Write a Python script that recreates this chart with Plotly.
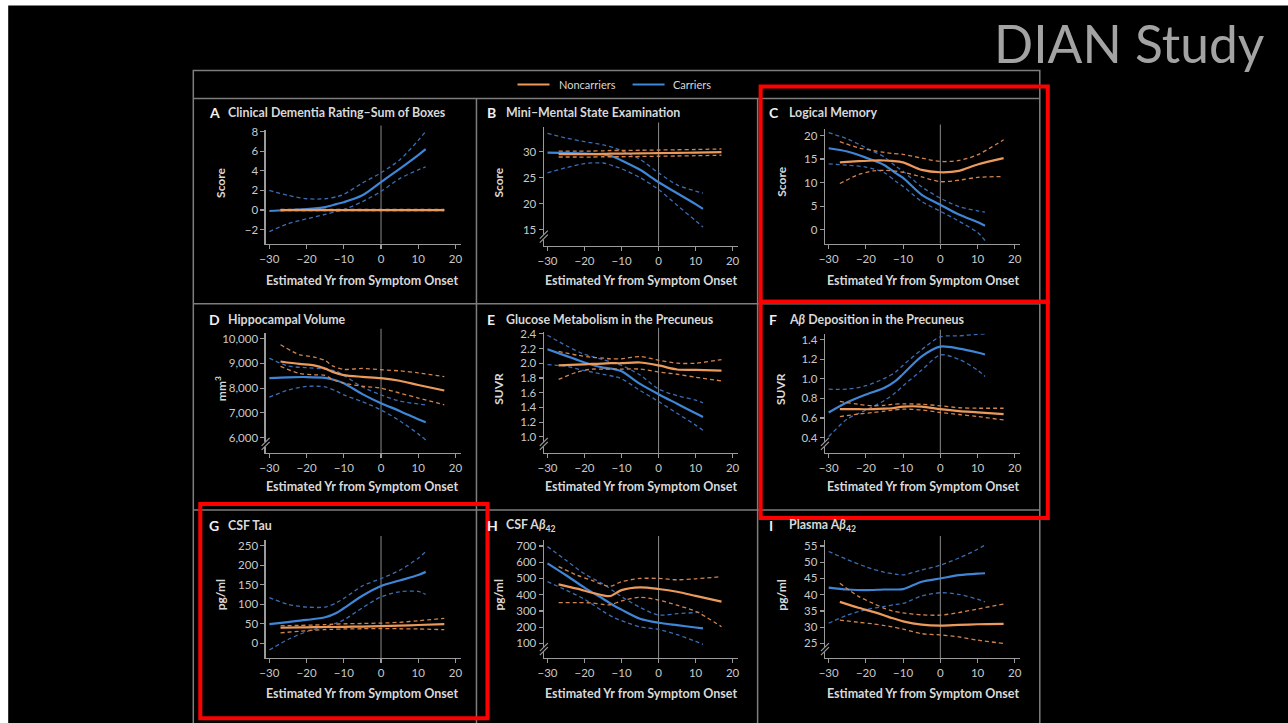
import plotly.graph_objects as go

# ---------------- data ----------------
CAR_X = [-30, -25, -20, -15, -12, -10, -5, 0, 5, 10, 12]
NON_X = [-27, -22, -18, -15, -13, -10, -5, 0, 5, 10, 17]
X_TICKS = [-30, -20, -10, 0, 10, 20]

A_CAR = [-0.1, 0.0, 0.1, 0.3, 0.6, 0.8, 1.5, 2.85, 4.2, 5.6, 6.2]
A_CAR_HI = [2.0, 1.5, 1.15, 1.15, 1.35, 1.6, 2.75, 3.8, 5.1, 7.1, 8.0]
A_CAR_LO = [-2.2, -1.4, -0.9, -0.45, -0.15, 0.05, 0.85, 1.9, 3.2, 4.1, 4.4]
A_NON = [0, 0, 0, 0, 0, 0, 0, 0, 0, 0, 0]
A_NON_HI = [0.06, 0.06, 0.06, 0.06, 0.06, 0.06, 0.06, 0.06, 0.06, 0.06, 0.06]
A_NON_LO = [-0.06, -0.06, -0.06, -0.06, -0.06, -0.06, -0.06, -0.06, -0.06, -0.06, -0.06]

B_CAR = [29.8, 29.75, 29.6, 29.45, 28.95, 28.3, 26.5, 24.1, 22.0, 19.9, 19.0]
B_CAR_HI = [33.5, 32.6, 31.9, 31.3, 30.7, 30.2, 28.5, 25.9, 23.6, 22.4, 22.0]
B_CAR_LO = [25.9, 26.9, 27.7, 27.8, 27.2, 26.7, 25.0, 22.7, 19.7, 16.7, 15.5]
B_NON = [29.5, 29.5, 29.5, 29.55, 29.6, 29.6, 29.65, 29.7, 29.75, 29.8, 29.9]
B_NON_HI = [30.1, 30.1, 30.1, 30.15, 30.2, 30.2, 30.25, 30.3, 30.35, 30.4, 30.5]
B_NON_LO = [28.95, 28.95, 28.95, 29.0, 29.0, 29.0, 29.05, 29.1, 29.15, 29.2, 29.3]

C_CAR = [17.3, 16.6, 15.3, 13.7, 12.0, 11.0, 7.4, 5.3, 3.2, 1.6, 0.85]
C_CAR_HI = [20.6, 19.3, 17.4, 15.4, 13.5, 12.4, 9.1, 6.7, 4.9, 4.0, 3.7]
C_CAR_LO = [14.0, 13.7, 13.3, 12.1, 10.3, 9.2, 6.0, 3.9, 1.8, -0.6, -2.3]
C_NON = [14.3, 14.55, 14.7, 14.7, 14.6, 14.3, 12.7, 12.2, 12.5, 13.85, 15.2]
C_NON_HI = [18.7, 17.4, 16.8, 16.4, 16.2, 16.0, 15.2, 14.5, 14.7, 15.9, 19.1]
C_NON_LO = [9.8, 11.7, 12.5, 12.6, 12.5, 12.2, 11.2, 10.2, 10.5, 11.1, 11.3]

D_CAR = [8405, 8440, 8450, 8415, 8310, 8200, 7760, 7390, 7080, 6740, 6620]
D_CAR_HI = [9216, 8900, 8830, 8770, 8680, 8520, 8050, 7730, 7480, 7360, 7325]
D_CAR_LO = [7635, 7920, 8070, 8050, 7880, 7730, 7450, 7120, 6680, 6150, 5900]
D_NON = [9080, 8980, 8920, 8790, 8660, 8530, 8460, 8405, 8300, 8130, 7905]
D_NON_HI = [9757, 9360, 9260, 9120, 8900, 8760, 8800, 8745, 8700, 8620, 8470]
D_NON_LO = [8880, 8600, 8540, 8520, 8350, 8200, 8080, 8000, 7800, 7600, 7325]

E_CAR = [2.19, 2.10, 2.01, 1.94, 1.92, 1.89, 1.72, 1.58, 1.45, 1.32, 1.27]
E_CAR_HI = [2.38, 2.24, 2.12, 2.05, 2.0, 1.97, 1.84, 1.65, 1.56, 1.50, 1.46]
E_CAR_LO = [1.98, 1.96, 1.90, 1.85, 1.82, 1.79, 1.63, 1.48, 1.32, 1.16, 1.09]
E_NON = [1.97, 1.98, 1.99, 1.995, 2.0, 2.0, 2.01, 1.97, 1.915, 1.91, 1.90]
E_NON_HI = [2.16, 2.11, 2.08, 2.07, 2.06, 2.06, 2.09, 2.04, 2.0, 2.0, 2.05]
E_NON_LO = [1.78, 1.88, 1.92, 1.92, 1.92, 1.92, 1.92, 1.88, 1.85, 1.81, 1.76]

F_CAR = [0.656, 0.76, 0.84, 0.91, 0.98, 1.05, 1.23, 1.33, 1.31, 1.27, 1.25]
F_CAR_HI = [0.895, 0.895, 0.93, 1.005, 1.07, 1.14, 1.30, 1.43, 1.44, 1.455, 1.46]
F_CAR_LO = [0.41, 0.59, 0.68, 0.78, 0.86, 0.93, 1.09, 1.245, 1.20, 1.09, 1.025]
F_NON = [0.69, 0.69, 0.69, 0.695, 0.70, 0.717, 0.717, 0.69, 0.67, 0.658, 0.64]
F_NON_HI = [0.77, 0.74, 0.725, 0.73, 0.74, 0.745, 0.74, 0.725, 0.705, 0.70, 0.70]
F_NON_LO = [0.615, 0.64, 0.656, 0.67, 0.68, 0.69, 0.683, 0.656, 0.636, 0.615, 0.58]

G_CAR = [49.5, 54.5, 60, 67, 78, 90, 122, 147, 161, 175, 183]
G_CAR_HI = [117, 100, 93, 93, 104, 115, 147, 166, 187, 218, 235]
G_CAR_LO = [-17, 10, 30, 43, 52, 60, 91, 119, 132, 133, 125]
G_NON = [40, 41, 41.5, 42, 42, 42.5, 43, 44, 45.5, 47, 49.5]
G_NON_HI = [45, 46, 47, 48, 49, 50, 51, 52, 54, 58, 64]
G_NON_LO = [27, 31, 34, 35.5, 36, 37, 37.5, 38, 37.5, 37, 35]

H_CAR = [593, 520, 444, 375, 332, 308, 252, 227, 212, 198, 192]
H_CAR_HI = [696, 612, 528, 466, 420, 388, 322, 275, 283, 290, 295]
H_CAR_LO = [480, 428, 372, 297, 258, 240, 202, 186, 154, 112, 94]
H_NON = [464, 437, 412, 396, 392, 428, 445, 435, 418, 393, 357]
H_NON_HI = [573, 520, 488, 462, 452, 480, 500, 500, 492, 498, 511]
H_NON_LO = [351, 351, 349, 340, 338, 362, 384, 367, 335, 298, 203]

I_CAR = [42.2, 41.6, 41.4, 41.6, 41.6, 41.7, 44.0, 45.0, 46.0, 46.5, 46.6]
I_CAR_HI = [53.3, 50.8, 48.6, 46.9, 46.3, 46.1, 47.6, 49.1, 51.3, 54.0, 55.3]
I_CAR_LO = [31.2, 33.7, 35.4, 36.4, 37.0, 37.3, 39.6, 40.6, 40.1, 38.6, 37.8]
I_NON = [37.8, 36.0, 34.7, 33.6, 32.8, 31.8, 30.8, 30.5, 30.7, 30.9, 31.0]
I_NON_HI = [43.5, 39.5, 37.3, 35.8, 35.0, 34.4, 33.8, 33.7, 34.5, 35.6, 37.1]
I_NON_LO = [32.2, 31.5, 31.0, 30.5, 30.1, 29.4, 28.0, 27.6, 27.0, 26.0, 25.0]

LETTERS = ["A", "B", "C", "D", "E", "F", "G", "H", "I"]
TITLES = ["Clinical Dementia Rating–Sum of Boxes", "Mini–Mental State Examination",
          "Logical Memory", "Hippocampal Volume", "Glucose Metabolism in the Precuneus",
          "A<i>β</i> Deposition in the Precuneus", "CSF Tau", "CSF A<i>β</i><sub>42</sub>",
          "Plasma A<i>β</i><sub>42</sub>"]
YLABELS = ["Score", "Score", "Score", "mm<sup>3</sup>", "SUVR", "SUVR", "pg/ml", "pg/ml", "pg/ml"]
XLABEL = "Estimated Yr from Symptom Onset"
Y_TICKS = [
    [-2, 0, 2, 4, 6, 8],
    [15, 20, 25, 30],
    [0, 5, 10, 15, 20],
    [6000, 7000, 8000, 9000, 10000],
    [1.0, 1.2, 1.4, 1.6, 1.8, 2.0, 2.2, 2.4],
    [0.4, 0.6, 0.8, 1.0, 1.2, 1.4],
    [0, 50, 100, 150, 200, 250],
    [100, 200, 300, 400, 500, 600, 700],
    [25, 30, 35, 40, 45, 50, 55],
]
Y_FORMATS = ["d", "d", "d", ",d", ".1f", ".1f", "d", "d", "d"]
SERIES = [
    (A_CAR, A_CAR_HI, A_CAR_LO, A_NON, A_NON_HI, A_NON_LO),
    (B_CAR, B_CAR_HI, B_CAR_LO, B_NON, B_NON_HI, B_NON_LO),
    (C_CAR, C_CAR_HI, C_CAR_LO, C_NON, C_NON_HI, C_NON_LO),
    (D_CAR, D_CAR_HI, D_CAR_LO, D_NON, D_NON_HI, D_NON_LO),
    (E_CAR, E_CAR_HI, E_CAR_LO, E_NON, E_NON_HI, E_NON_LO),
    (F_CAR, F_CAR_HI, F_CAR_LO, F_NON, F_NON_HI, F_NON_LO),
    (G_CAR, G_CAR_HI, G_CAR_LO, G_NON, G_NON_HI, G_NON_LO),
    (H_CAR, H_CAR_HI, H_CAR_LO, H_NON, H_NON_HI, H_NON_LO),
    (I_CAR, I_CAR_HI, I_CAR_LO, I_NON, I_NON_HI, I_NON_LO),
]

# ---------------- layout geometry (target pixels) ----------------
W, H = 1288, 723
FONT = "Lato"
BLUE = "#3f86d6"
BLUE_D = "#3a6db5"
ORANGE = "#ec9a5c"
ORANGE_D = "#d2844e"
AXC = "#9a9a9a"
TXT = "#d8d8d8"

COL_X0 = [269, 547, 828]     # pixel of x=-30
COL_X1 = [455, 732, 1014]    # pixel of x=20
# (tick value1, pixel1, tick value2, pixel2, top pixel, bottom pixel, axis break)
GEOM = [
    (8, 132, -2, 230, 130, 244, False),
    (30, 152, 15, 230, 127, 246, True),
    (20, 136, 0, 230, 129, 244, False),
    (10000, 339, 6000, 437.7, 333, 453, True),
    (2.4, 334, 1.0, 437, 332, 453, True),
    (1.4, 340, 0.4, 437.7, 334, 453, True),
    (250, 545.7, 0, 643.3, 540, 658, False),
    (700, 546, 100, 643.3, 540, 658, True),
    (55, 546, 25, 643.3, 540, 658, True),
]
LETTER_X = [207, 485, 766]
TITLE_X = [226, 504, 786]
TITLE_Y = [113, 320, 526]
YLAB_X = [220, 498, 780]
XLAB_X = [362, 640, 922]
XLAB_Y = [281, 487, 693]
XMIN, XMAX = -31, 21.5

# the capture shows the page slightly offset and scaled; compensate
OFF_X, SC_X = 5.8, 0.994
OFF_Y, SC_Y = 5.6, 0.992


def fx(p):
    return ((p - OFF_X) / SC_X) / W


def fy(p):
    return 1 - ((p - OFF_Y) / SC_Y) / H


fig = go.Figure()
shapes = []
annotations = []
layout = {}

for k in range(9):
    r, c = divmod(k, 3)
    n = k + 1
    xs = "" if n == 1 else str(n)
    v1, p1, v2, p2, top, bot, brk = GEOM[k]
    sc = (p2 - p1) / (v1 - v2)
    ymin = v2 - (bot - p2) / sc
    ymax = v1 + (p1 - top) / sc
    x0, x1 = COL_X0[c], COL_X1[c]
    sx = (x1 - x0) / 50.0
    left_px = x0 + (XMIN + 30) * sx
    right_px = x0 + (XMAX + 30) * sx

    car, car_hi, car_lo, non, non_hi, non_lo = SERIES[k]
    common = dict(xaxis="x" + xs, yaxis="y" + xs, mode="lines", showlegend=False,
                  hoverinfo="skip")
    dash_line = dict(width=1.3, dash="4px,3px", shape="spline", smoothing=0.8)
    fig.add_trace(go.Scatter(x=CAR_X, y=car_hi, line=dict(color=BLUE_D, **dash_line), **common))
    fig.add_trace(go.Scatter(x=CAR_X, y=car_lo, line=dict(color=BLUE_D, **dash_line), **common))
    fig.add_trace(go.Scatter(x=CAR_X, y=car, line=dict(color=BLUE, width=2.2,
                                                      shape="spline", smoothing=0.8), **common))
    fig.add_trace(go.Scatter(x=NON_X, y=non_hi, line=dict(color=ORANGE_D, **dash_line), **common))
    fig.add_trace(go.Scatter(x=NON_X, y=non_lo, line=dict(color=ORANGE_D, **dash_line), **common))
    fig.add_trace(go.Scatter(x=NON_X, y=non, line=dict(color=ORANGE, width=2.2,
                                                      shape="spline", smoothing=0.8), **common))

    tickfont = dict(family=FONT, size=11.5, color="#c8c8c8")
    layout["xaxis" + xs] = dict(
        domain=[fx(left_px), fx(right_px)], range=[XMIN, XMAX], anchor="y" + xs,
        tickmode="array", tickvals=X_TICKS, ticks="outside", ticklen=4, tickwidth=1.2,
        tickcolor=AXC, showline=True, linecolor=AXC, linewidth=1.2, showgrid=False,
        zeroline=False, tickfont=tickfont, fixedrange=True)
    layout["yaxis" + xs] = dict(
        domain=[fy(bot), fy(top)], range=[ymin, ymax], anchor="x" + xs,
        tickmode="array", tickvals=Y_TICKS[k], tickformat=Y_FORMATS[k], ticks="outside",
        ticklen=4, tickwidth=1.2, tickcolor=AXC, showline=True, linecolor=AXC, linewidth=1.2,
        showgrid=False, zeroline=False, tickfont=tickfont, fixedrange=True)

    # vertical line at symptom onset
    shapes.append(dict(type="line", xref="x" + xs, yref="paper", x0=0, x1=0,
                       y0=fy(bot), y1=fy(top - 4), line=dict(color="#8a8a8a", width=1),
                       layer="below"))
    # axis break
    if brk:
        ax = left_px
        shapes.append(dict(type="rect", xref="paper", yref="paper", x0=fx(ax - 2), x1=fx(ax + 2),
                           y0=fy(bot - 6), y1=fy(bot - 11), fillcolor="black",
                           line=dict(width=0)))
        for off in (0, 4):
            shapes.append(dict(type="line", xref="paper", yref="paper",
                               x0=fx(ax - 4), y0=fy(bot - 3 - off), x1=fx(ax + 4),
                               y1=fy(bot - 11 - off), line=dict(color=AXC, width=1.2)))

    # titles
    annotations.append(dict(text="<b>" + LETTERS[k] + "</b>", x=fx(LETTER_X[c]), y=fy(TITLE_Y[r]),
                            xref="paper", yref="paper", xanchor="left", yanchor="middle",
                            showarrow=False, font=dict(family=FONT, size=14, color="#f0f0f0")))
    annotations.append(dict(text="<b>" + TITLES[k] + "</b>", x=fx(TITLE_X[c]), y=fy(TITLE_Y[r]),
                            xref="paper", yref="paper", xanchor="left", yanchor="middle",
                            showarrow=False, font=dict(family=FONT, size=12.4, color=TXT)))
    annotations.append(dict(text="<b>" + YLABELS[k] + "</b>", x=fx(YLAB_X[c]),
                            y=fy((top + bot) / 2 - 4), xref="paper", yref="paper",
                            xanchor="center", yanchor="middle", textangle=-90,
                            showarrow=False, font=dict(family=FONT, size=12, color=TXT)))
    annotations.append(dict(text="<b>" + XLABEL + "</b>", x=fx(XLAB_X[c]), y=fy(XLAB_Y[r]),
                            xref="paper", yref="paper", xanchor="center", yanchor="middle",
                            showarrow=False, font=dict(family=FONT, size=12.5, color=TXT)))

# slide background (black), leaving thin white margins at top and left
shapes.insert(0, dict(type="rect", xref="paper", yref="paper", x0=fx(8), x1=1.02, y0=-0.02,
                      y1=fy(6), fillcolor="black", line=dict(width=0), layer="below"))

# figure frame
FR = dict(color="#7d7d7d", width=1.5)
shapes += [
    dict(type="rect", xref="paper", yref="paper", x0=fx(193), x1=fx(1039), y0=fy(740), y1=fy(71),
         line=FR),
    dict(type="line", xref="paper", yref="paper", x0=fx(193), x1=fx(1039), y0=fy(99), y1=fy(99),
         line=FR),
    dict(type="line", xref="paper", yref="paper", x0=fx(193), x1=fx(1039), y0=fy(304), y1=fy(304),
         line=FR),
    dict(type="line", xref="paper", yref="paper", x0=fx(193), x1=fx(1039), y0=fy(510), y1=fy(510),
         line=FR),
    dict(type="line", xref="paper", yref="paper", x0=fx(476), x1=fx(476), y0=fy(99), y1=fy(740),
         line=FR),
    dict(type="line", xref="paper", yref="paper", x0=fx(757), x1=fx(757), y0=fy(99), y1=fy(740),
         line=FR),
]

# legend
shapes += [
    dict(type="line", xref="paper", yref="paper", x0=fx(517), x1=fx(549), y0=fy(85), y1=fy(85),
         line=dict(color=ORANGE, width=2.2)),
    dict(type="line", xref="paper", yref="paper", x0=fx(632), x1=fx(664), y0=fy(85), y1=fy(85),
         line=dict(color=BLUE, width=2.2)),
]
annotations += [
    dict(text="Noncarriers", x=fx(556), y=fy(85), xref="paper", yref="paper", xanchor="left",
         yanchor="middle", showarrow=False, font=dict(family=FONT, size=11, color=TXT)),
    dict(text="Carriers", x=fx(670), y=fy(85), xref="paper", yref="paper", xanchor="left",
         yanchor="middle", showarrow=False, font=dict(family=FONT, size=11, color=TXT)),
]

# highlight boxes
RED = dict(color="#ff0000", width=4)
shapes += [
    dict(type="rect", xref="paper", yref="paper", x0=fx(760), x1=fx(1047), y0=fy(302), y1=fy(87),
         line=RED),
    dict(type="rect", xref="paper", yref="paper", x0=fx(760), x1=fx(1047), y0=fy(518), y1=fy(302),
         line=RED),
    dict(type="rect", xref="paper", yref="paper", x0=fx(200), x1=fx(487), y0=fy(718), y1=fy(504),
         line=RED),
]

annotations.append(dict(text="DIAN Study", x=fx(1266), y=fy(44), xref="paper", yref="paper",
                        xanchor="right", yanchor="middle", showarrow=False,
                        font=dict(family=FONT, size=51.5, color="#a3a3a3")))

fig.update_layout(**layout)
fig.update_layout(width=W, height=H, margin=dict(l=0, r=0, t=0, b=0), paper_bgcolor="white",
                  plot_bgcolor="rgba(0,0,0,0)", shapes=shapes, annotations=annotations,
                  showlegend=False)
fig.write_html("out.html", config={"displayModeBar": False, "staticPlot": True},
               post_script="document.body.style.margin='0';document.body.style.overflow='hidden';")
